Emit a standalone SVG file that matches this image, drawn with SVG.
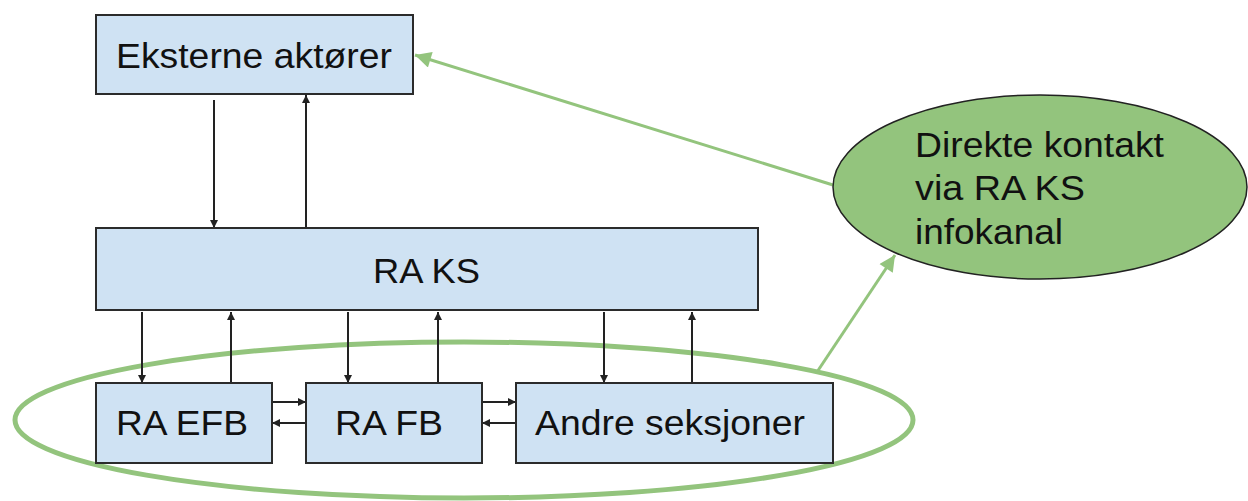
<svg xmlns="http://www.w3.org/2000/svg" width="1248" height="501" viewBox="0 0 1248 501">
  <style>
    .box { fill: #cfe2f3; stroke: #2b2b2b; stroke-width: 2; }
    .lbl { font-family: "Liberation Sans", Arial, sans-serif; font-size: 35px; fill: #111; }
    .blk { stroke: #222; stroke-width: 2; fill: none; marker-end: url(#ahBlack); }
    .grn { stroke: #93c47d; stroke-width: 3; fill: none; marker-end: url(#ahGreen); }
  </style>
  <defs>
    <marker id="ahBlack" viewBox="0 0 10 10" refX="10" refY="5" markerUnits="userSpaceOnUse" markerWidth="9" markerHeight="8" orient="auto">
      <path d="M0,0 L10,5 L0,10 z" fill="#222"/>
    </marker>
    <marker id="ahGreen" viewBox="0 0 10 10" refX="10" refY="5" markerUnits="userSpaceOnUse" markerWidth="24" markerHeight="16" orient="auto">
      <path d="M0,0 L10,5 L0,10 z" fill="#93c47d"/>
    </marker>
  </defs>

  <rect width="1248" height="501" fill="#ffffff"/>

  <!-- grouping ring round the three sections -->
  <g id="ring">
    <ellipse cx="464" cy="420" rx="449" ry="78" fill="none" stroke="#93c47d" stroke-width="5"/>
  </g>

  <!-- connectors -->
  <g id="connectors">
    <line class="blk" x1="214" y1="100" x2="214" y2="228"/>
    <line class="blk" x1="306" y1="228" x2="306" y2="95"/>
    <line class="blk" x1="142" y1="312" x2="142" y2="383"/>
    <line class="blk" x1="231" y1="383" x2="231" y2="312"/>
    <line class="blk" x1="348" y1="312" x2="348" y2="383"/>
    <line class="blk" x1="438" y1="383" x2="438" y2="312"/>
    <line class="blk" x1="604" y1="312" x2="604" y2="383"/>
    <line class="blk" x1="692" y1="383" x2="692" y2="312"/>
    <line class="blk" x1="272" y1="402" x2="306" y2="402"/>
    <line class="blk" x1="306" y1="423" x2="272" y2="423"/>
    <line class="blk" x1="482" y1="402" x2="516" y2="402"/>
    <line class="blk" x1="516" y1="423" x2="482" y2="423"/>
    <line class="grn" x1="833" y1="185" x2="415" y2="55"/>
    <line class="grn" x1="817" y1="372" x2="895" y2="255"/>
  </g>

  <g id="eksterne">
    <rect class="box" x="96" y="15" width="317" height="79"/>
    <text class="lbl" x="116" y="68" textLength="276" lengthAdjust="spacingAndGlyphs">Eksterne aktører</text>
  </g>

  <g id="raks">
    <rect class="box" x="96" y="228" width="662" height="82"/>
    <text class="lbl" x="373" y="283" textLength="107" lengthAdjust="spacingAndGlyphs">RA KS</text>
  </g>

  <g id="raefb">
    <rect class="box" x="96" y="383" width="176" height="80"/>
    <text class="lbl" x="116" y="435" textLength="132" lengthAdjust="spacingAndGlyphs">RA EFB</text>
  </g>

  <g id="rafb">
    <rect class="box" x="306" y="383" width="176" height="80"/>
    <text class="lbl" x="335" y="435" textLength="108" lengthAdjust="spacingAndGlyphs">RA FB</text>
  </g>

  <g id="andre">
    <rect class="box" x="516" y="383" width="317" height="80"/>
    <text class="lbl" x="535" y="435" textLength="270" lengthAdjust="spacingAndGlyphs">Andre seksjoner</text>
  </g>

  <g id="infokanal">
    <ellipse cx="1040" cy="187" rx="207" ry="92" fill="#93c47d" stroke="#222" stroke-width="1.5"/>
    <text class="lbl" x="915" y="157" textLength="249" lengthAdjust="spacingAndGlyphs">Direkte kontakt</text>
    <text class="lbl" x="915" y="200" textLength="170" lengthAdjust="spacingAndGlyphs">via RA KS</text>
    <text class="lbl" x="915" y="244" textLength="148" lengthAdjust="spacingAndGlyphs">infokanal</text>
  </g>
</svg>
